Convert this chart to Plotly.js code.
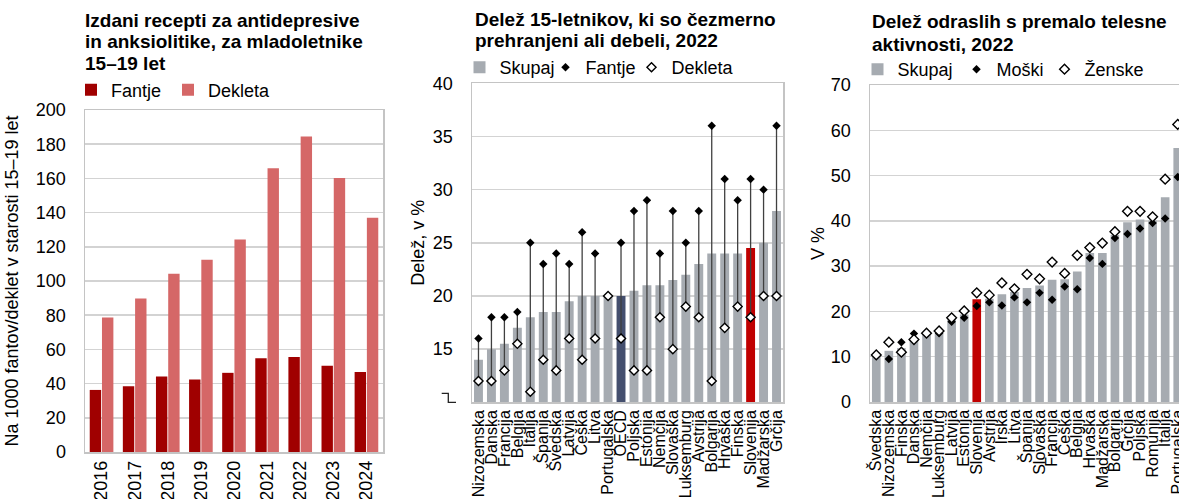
<!DOCTYPE html>
<html><head><meta charset="utf-8">
<script src="https://cdn.plot.ly/plotly-3.0.1.min.js"></script>
<style>html,body{margin:0;padding:0;overflow:hidden;background:#fff}#chart{width:1200px;height:560px}</style>
</head><body><div id="chart"></div>
<script>
// ---------- Panel 1 data ----------
const years = ['2016','2017','2018','2019','2020','2021','2022','2023','2024'];
const rxBoys = [36.3, 38.5, 44.2, 42.4, 46.3, 54.8, 55.6, 50.5, 46.8];
const rxGirls = [78.7, 89.8, 104.2, 112.5, 124.2, 166.0, 184.5, 160.2, 137.0];
const ticks1 = [0,20,40,60,80,100,120,140,160,180,200];

// ---------- Panel 2 data ----------
const countries2 = ['Nizozemska','Danska','Francija','Belgija','Italija','Španija','Švedska','Latvija','Češka','Litva','Portugalska','OECD','Poljska','Estonija','Nemčija','Slovaška','Luksemburg','Avstrija','Bolgarija','Hrvaška','Finska','Slovenija','Madžarska','Grčija'];
const total2 = [14,15,15.5,17,18,18.5,18.5,19.5,20,20,20,20,20.5,21,21,21.5,22,23,24,24,24,24.5,25,28];
const boys2  = [16,18,18,18.5,25,23,24,23,26,24,null,25,28,29,24,28,25,28,36,31,29,31,30,36];
const girls2 = [12,12,13,15.5,11,14,13,16,14,16,20,16,13,13,18,15,19,18,12,17,19,18,20,20];
const ticks2 = [15,20,25,30,35,40];

// ---------- Panel 3 data ----------
const countries3 = ['Švedska','Nizozemska','Finska','Danska','Nemčija','Luksemburg','Latvija','Estonija','Slovenija','Avstrija','Irska','Litva','Španija','Slovaška','Francija','Češka','Belgija','Hrvaška','Madžarska','Bolgarija','Grčija','Poljska','Romunija','Italija','Portugalska'];
const total3 = [10.6,11.3,11.9,14.1,15.1,15.3,18.2,19.3,22.7,22.8,23.8,24.3,25.2,25.7,27.0,27.1,28.8,32.9,32.9,36.9,39.7,40.3,40.1,45.2,56.1];
const men3   = [10.5,9.5,13.2,15.1,15.1,15.2,17.7,18.6,21.2,22.0,21.3,23.1,22.0,24.1,22.6,25.5,24.9,31.8,30.5,36.2,37.1,38.3,39.5,40.5,49.7];
const women3 = [10.4,13.2,11.0,13.8,15.2,15.7,18.6,20.1,24.1,23.6,26.3,25.0,28.2,27.2,30.9,28.4,32.4,34.1,35.1,37.6,42.1,42.1,40.9,49.2,61.3];
const ticks3 = [0,10,20,30,40,50,60,70];

// ---------- helpers ----------
const W = 1200, H = 560;
const xd = (a,b) => [a/W, b/W];
const yd = (top,bot) => [(H-bot)/H, (H-top)/H];
const px = x => x/W, py = y => (H-y)/H;
const catRange = arr => [-0.5, arr.length - 0.5];

const FONT = 'Liberation Sans, Arial, sans-serif';
const TFONT = 'Liberation Sans Narrow, Arial Narrow, Liberation Sans, sans-serif';
const GRAY = '#A6ABB1', RED = '#C00000', NAVY = '#444F6E';
const GRID = '#D3D3D3', FRAME = '#C4C4C4';

const colors2 = countries2.map(c => c === 'Slovenija' ? RED : (c === 'OECD' ? NAVY : GRAY));
const colors3 = countries3.map(c => c === 'Slovenija' ? RED : GRAY);

// stems for panel 2 built from data
const stemX = [], stemY = [];
countries2.forEach((c,i) => {
  if (boys2[i] != null && girls2[i] != null) { stemX.push(c,c,null); stemY.push(boys2[i], girls2[i], null); }
});

const traces = [
  {type:'bar', x:years, y:rxBoys, name:'Fantje', marker:{color:'#A00000'}, xaxis:'x', yaxis:'y', legend:'legend', legendwidth:52, hoverinfo:'skip'},
  {type:'bar', x:years, y:rxGirls, name:'Dekleta', marker:{color:'#D56767'}, xaxis:'x', yaxis:'y', legend:'legend', hoverinfo:'skip'},

  {type:'bar', x:countries2, y:total2, name:'Skupaj', marker:{color:colors2}, xaxis:'x2', yaxis:'y2', legend:'legend2', legendwidth:41, hoverinfo:'skip'},
  {type:'scatter', mode:'lines', x:stemX, y:stemY, line:{color:'#404040', width:1.3}, xaxis:'x2', yaxis:'y2', showlegend:false, hoverinfo:'skip'},
  {type:'scatter', mode:'markers', x:countries2, y:boys2, name:'Fantje', marker:{symbol:'diamond', size:6.5, color:'#000'}, xaxis:'x2', yaxis:'y2', legend:'legend2', legendwidth:41, hoverinfo:'skip'},
  {type:'scatter', mode:'markers', x:countries2, y:girls2, name:'Dekleta', marker:{symbol:'diamond', size:7, color:'#fff', line:{color:'#000', width:1.4}}, xaxis:'x2', yaxis:'y2', legend:'legend2', hoverinfo:'skip'},

  {type:'bar', x:countries3, y:total3, name:'Skupaj', marker:{color:colors3}, xaxis:'x3', yaxis:'y3', legend:'legend3', legendwidth:54, hoverinfo:'skip'},
  {type:'scatter', mode:'markers', x:countries3, y:men3, name:'Moški', marker:{symbol:'diamond', size:6.5, color:'#000'}, xaxis:'x3', yaxis:'y3', legend:'legend3', legendwidth:43, hoverinfo:'skip'},
  {type:'scatter', mode:'markers', x:countries3, y:women3, name:'Ženske', marker:{symbol:'diamond', size:7.5, color:'#fff', line:{color:'#000', width:1.4}}, xaxis:'x3', yaxis:'y3', legend:'legend3', hoverinfo:'skip'}
];

const xBase = {type:'category', showgrid:false, zeroline:false, showline:true, mirror:true, linecolor:FRAME, linewidth:1.5, ticks:'', tickangle:-90, automargin:false, fixedrange:true};
const yBase = {showgrid:true, gridcolor:GRID, gridwidth:1.5, zeroline:false, showline:true, mirror:true, linecolor:FRAME, linewidth:1.5, ticks:'', tickfont:{size:18}, ticklabelstandoff:14, automargin:false, fixedrange:true};

const legBase = {orientation:'h', xanchor:'left', yanchor:'middle', font:{family:FONT, size:18, color:'#000'}, bgcolor:'rgba(0,0,0,0)', borderwidth:0, traceorder:'normal'};

function titleLines(lines, x, ys) {
  return lines.map((t,i) => ({xref:'paper', yref:'paper', x:px(x), y:py(ys[i]), xanchor:'left', yanchor:'middle', text:'<b>'+t+'</b>', showarrow:false, font:{family:TFONT, size:19, color:'#000'}}));
}

const layout = {
  width:W, height:H,
  margin:{l:0, r:0, t:0, b:0},
  paper_bgcolor:'#fff', plot_bgcolor:'#fff',
  font:{family:FONT, size:18, color:'#000'},
  barmode:'group', bargap:0.26, bargroupgap:0.07,
  xaxis: Object.assign({}, xBase, {domain:xd(85,383), anchor:'y', range:catRange(years), tickfont:{size:18}, tickmode:'array', tickvals:years, ticktext:years}),
  yaxis: Object.assign({}, yBase, {domain:yd(110,452), anchor:'x', range:[0,200], tickvals:ticks1,
          title:{text:'Na 1000 fantov/deklet v starosti 15–19 let', font:{size:18}, standoff:12}}),
  xaxis2: Object.assign({}, xBase, {domain:xd(472,783), anchor:'y2', range:catRange(countries2), tickfont:{size:16}, tickmode:'array', tickvals:countries2, ticktext:countries2}),
  yaxis2: Object.assign({}, yBase, {domain:yd(83.3,402.3), anchor:'x2', range:[10,40], tickvals:ticks2,
          title:{text:'Delež, v %', font:{size:18}, standoff:3}}),
  xaxis3: Object.assign({}, xBase, {domain:xd(870,1184), anchor:'y3', range:catRange(countries3), tickfont:{size:16}, tickmode:'array', tickvals:countries3, ticktext:countries3}),
  yaxis3: Object.assign({}, yBase, {domain:yd(85,402), anchor:'x3', range:[0,70], tickvals:ticks3,
          title:{text:'V %', font:{size:18}, standoff:1}}),
  legend: Object.assign({}, legBase, {x:px(71), y:py(90)}),
  legend2: Object.assign({}, legBase, {x:px(459.5), y:py(67.5)}),
  legend3: Object.assign({}, legBase, {x:px(857.5), y:py(69.5)}),
  annotations: [].concat(
    titleLines(['Izdani recepti za antidepresive','in anksiolitike, za mladoletnike','15–19 let'], 83, [21,42,63]),
    titleLines(['Delež 15-letnikov, ki so čezmerno','prehranjeni ali debeli, 2022'], 473, [20,41]),
    titleLines(['Delež odraslih s premalo telesne','aktivnosti, 2022'], 870, [22,44])
  ),
  shapes: [
    {type:'path', xref:'paper', yref:'paper', path:'M'+px(441.7)+','+py(393.3)+' L'+px(448.3)+','+py(393.3)+' L'+px(448.3)+','+py(402.3)+' L'+px(456)+','+py(402.3), line:{color:'#222', width:1.3}}
  ],
  showlegend:true
};

Plotly.newPlot('chart', traces, layout, {displayModeBar:false, staticPlot:true});
</script></body></html>
